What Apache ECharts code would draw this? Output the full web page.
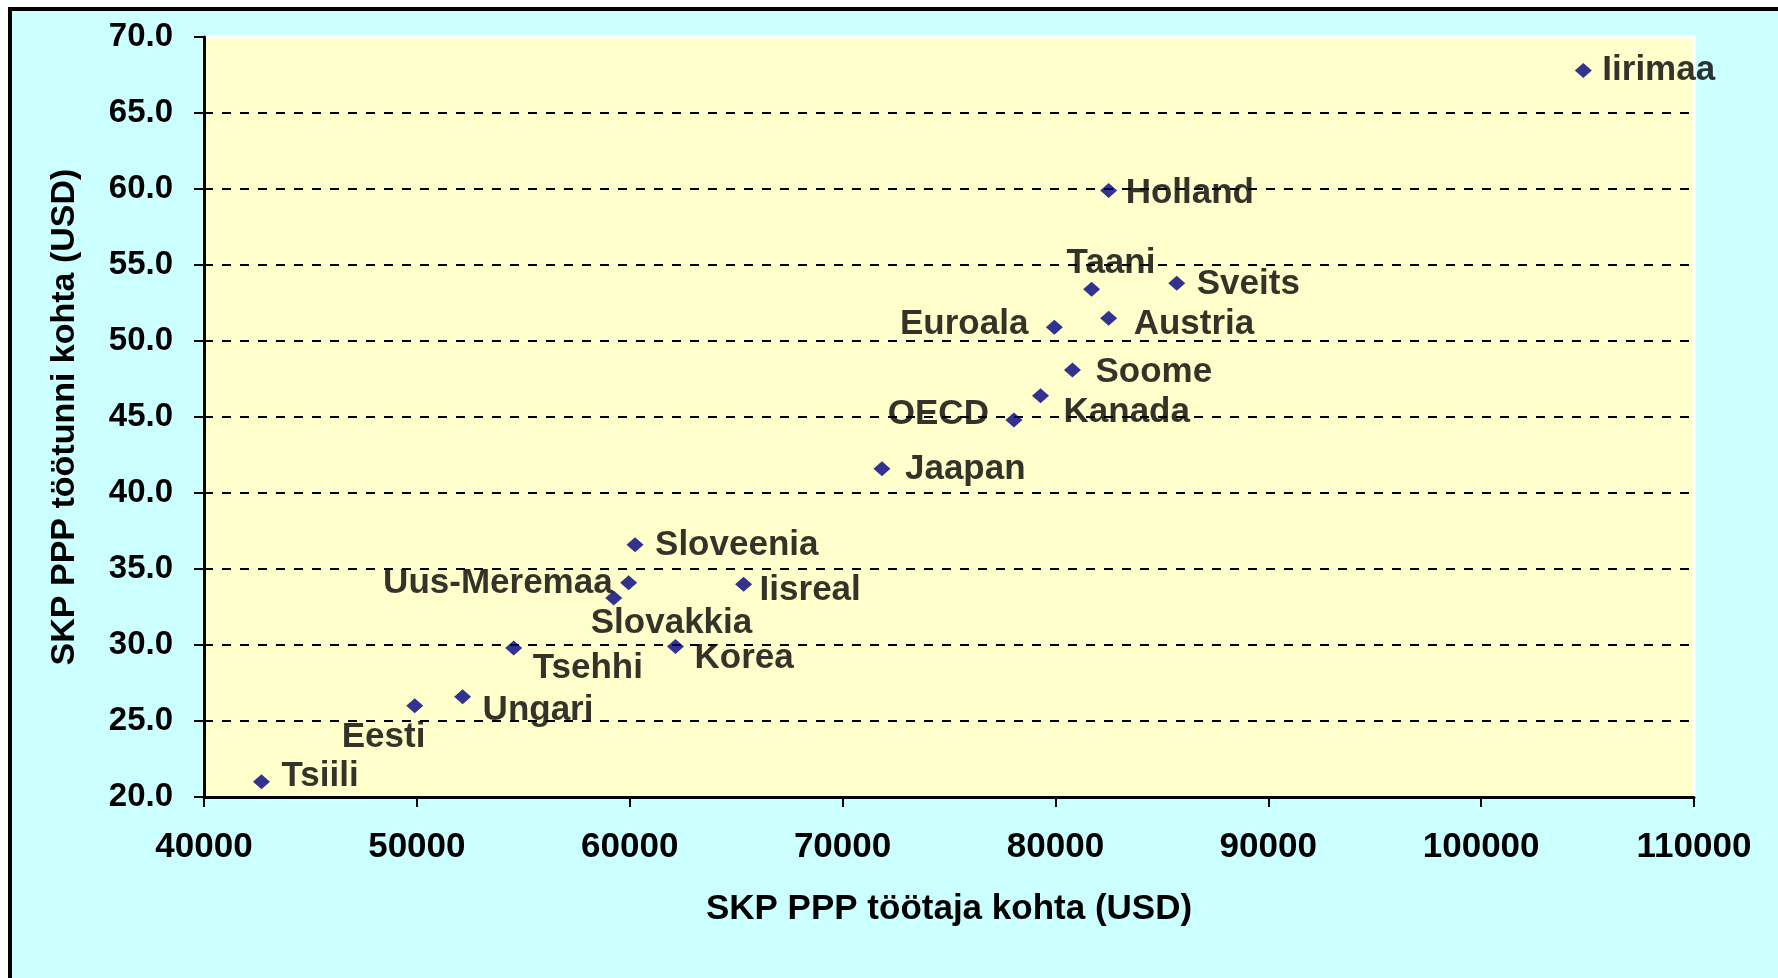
<!DOCTYPE html>
<html>
<head>
<meta charset="utf-8">
<script src="https://cdn.jsdelivr.net/npm/echarts@6/dist/echarts.min.js"></script>
<style>
  html, body { margin: 0; padding: 0; background: #fff; }
  #main {
    position: absolute; left: 8px; top: 7px;
    width: 1766px; height: 967px;
    border-top: 4px solid #000; border-left: 4px solid #000;
    background: #CCFFFF;
  }
</style>
</head>
<body>
<div id="main"></div>
<script type="text/javascript">
// maat, SKP PPP töötaja kohta (USD), SKP PPP töötunni kohta (USD)
var countries = ['Iirimaa', 'Holland', 'Taani', 'Sveits', 'Austria', 'Euroala', 'Soome', 'Kanada', 'OECD', 'Jaapan',
  'Sloveenia', 'Uus-Meremaa', 'Slovakkia', 'Iisreal', 'Korea', 'Tsehhi', 'Ungari', 'Eesti', 'Tsiili'];
var perWorker = [104800, 82500, 81700, 85700, 82500, 79950, 80800, 79300, 78050, 71850,
  60250, 59950, 59250, 65350, 62150, 54550, 52150, 49900, 42700];
var perHour = [67.8, 59.9, 53.4, 53.8, 51.5, 50.9, 48.1, 46.4, 44.8, 41.6,
  36.6, 34.1, 33.1, 34.0, 29.9, 29.8, 26.6, 26.0, 21.0];

var yTicks = [20, 25, 30, 35, 40, 45, 50, 55, 60, 65, 70];

// sildi asukoht punkti suhtes: [joondus, dx, dy]
var labelPlace = {
  'Iirimaa': ['left', 19, 0],
  'Holland': ['left', 17, 3],
  'Taani': ['left', -25, -26],
  'Sveits': ['left', 20, 1],
  'Austria': ['left', 25, 6],
  'Euroala': ['right', -26, -3],
  'Soome': ['left', 23, 2],
  'Kanada': ['left', 23, 17],
  'OECD': ['right', -25, -6],
  'Jaapan': ['left', 23, 1],
  'Sloveenia': ['left', 20, 1],
  'Uus-Meremaa': ['right', -16, 1],
  'Slovakkia': ['left', -23, 25],
  'Iisreal': ['left', 16, 6],
  'Korea': ['left', 19, 12],
  'Tsehhi': ['left', 19, 20],
  'Ungari': ['left', 20, 14],
  'Eesti': ['left', -73, 32],
  'Tsiili': ['left', 20, -5]
};

var font = 'Liberation Sans, Arial, sans-serif';

var points = countries.map(function (c, i) {
  var p = labelPlace[c];
  return {
    name: c,
    value: [perWorker[i], perHour[i]],
    label: { align: p[0], offset: [p[1], p[2]] }
  };
});

// ülemist joont (70.0) ei joonistata
var splitColors = yTicks.map(function (t) { return t === 70 ? 'rgba(0,0,0,0)' : '#000'; });

var chart = echarts.init(document.getElementById('main'));
var option = {
  animation: false,
  grid: {
    left: 192, top: 26, right: 84, bottom: 181,
    show: true,
    backgroundColor: '#FFFFCC',
    borderColor: '#fff',
    borderWidth: 3
  },
  xAxis: {
    type: 'value',
    min: 40000, max: 110000, interval: 10000,
    name: 'SKP PPP töötaja kohta (USD)',
    nameLocation: 'middle',
    nameGap: 95,
    nameTextStyle: { fontFamily: font, fontWeight: 'bold', fontSize: 35, color: '#000' },
    axisLine: { show: true, lineStyle: { color: '#000', width: 3 } },
    axisTick: { show: true, length: 10, lineStyle: { color: '#000', width: 2 } },
    axisLabel: {
      margin: 33, fontFamily: font, fontWeight: 'bold', fontSize: 35, color: '#000',
      formatter: function (v) { return String(v); }
    },
    splitLine: { show: false }
  },
  yAxis: {
    type: 'value',
    min: 20, max: 70, interval: 5,
    name: 'SKP PPP töötunni kohta (USD)',
    nameLocation: 'middle',
    nameRotate: 90,
    nameGap: 122,
    nameTextStyle: { fontFamily: font, fontWeight: 'bold', fontSize: 34, color: '#000' },
    axisLine: { show: true, lineStyle: { color: '#000', width: 3 } },
    axisTick: { show: true, length: 10, lineStyle: { color: '#000', width: 2 } },
    axisLabel: {
      margin: 31, fontFamily: font, fontWeight: 'bold', fontSize: 33, color: '#000',
      formatter: function (v) { return v.toFixed(1); }
    },
    splitLine: { show: true, lineStyle: { color: splitColors, width: 2, type: [9, 9] } }
  },
  series: [{
    type: 'scatter',
    symbol: 'diamond',
    symbolSize: [17, 15],
    itemStyle: { color: '#000080' },
    label: {
      show: true,
      position: 'inside',
      verticalAlign: 'middle',
      formatter: '{b}',
      fontFamily: font, fontWeight: 'bold', fontSize: 35, color: '#000',
      textBorderWidth: 0
    },
    data: points
  }]
};
chart.setOption(option);
</script>
</body>
</html>
